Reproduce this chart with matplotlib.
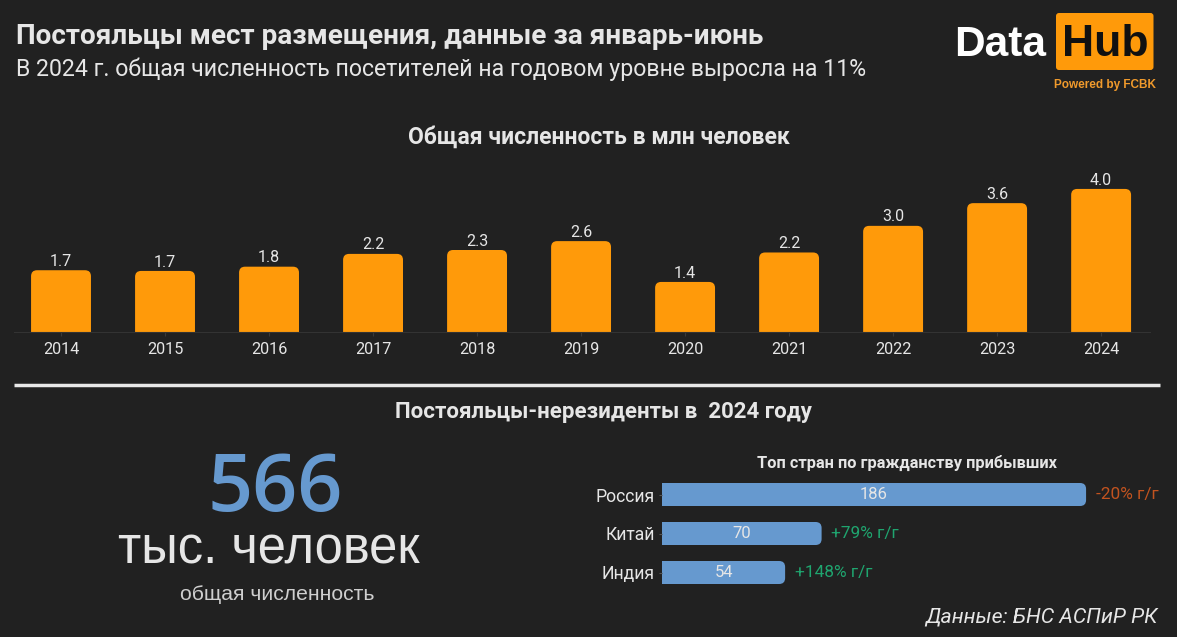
from matplotlib import pyplot as plt
from matplotlib.patches import FancyBboxPatch, PathPatch
from matplotlib.path import Path

W, H = 1177, 637
BG = '#212121'
ORANGE = '#ff9a0a'
BLUE = '#6699cf'
LIGHT = '#e6e6e6'

years = ['2014', '2015', '2016', '2017', '2018', '2019', '2020', '2021', '2022', '2023', '2024']
guests = [1.74, 1.72, 1.84, 2.20, 2.31, 2.56, 1.41, 2.24, 2.99, 3.63, 4.03]

countries = ['Россия', 'Китай', 'Индия']
arrivals = [186, 70, 54]
changes = ['-20% г/г', '+79% г/г', '+148% г/г']
change_colors = ['#c2531f', '#1fa56f', '#1fa56f']

plt.rcParams['font.family'] = ['Roboto', 'DejaVu Sans']


def px_axes(fig, left, top, right, bottom):
  return fig.add_axes([left / W, 1 - bottom / H, (right - left) / W, (bottom - top) / H])


def label(fig, x, y, s, **kw):
  kw.setdefault('va', 'center')
  return fig.text(x / W, 1 - y / H, s, **kw)


def round_bar(ax, x0, x1, y0, y1, r, color, horizontal=False):
  # rounded on the free end only, r is in pixels
  sx = ax.bbox.width / abs(ax.get_xlim()[1] - ax.get_xlim()[0])
  sy = ax.bbox.height / abs(ax.get_ylim()[1] - ax.get_ylim()[0])
  rx, ry = r / sx, r / sy
  if horizontal:
    verts = [(x0, y0), (x1 - rx, y0), (x1, y0), (x1, y0 + ry), (x1, y1 - ry),
             (x1, y1), (x1 - rx, y1), (x0, y1), (x0, y0)]
  else:
    verts = [(x0, y0), (x0, y1 - ry), (x0, y1), (x0 + rx, y1), (x1 - rx, y1),
             (x1, y1), (x1, y1 - ry), (x1, y0), (x0, y0)]
  codes = [Path.MOVETO, Path.LINETO, Path.CURVE3, Path.CURVE3, Path.LINETO,
           Path.CURVE3, Path.CURVE3, Path.LINETO, Path.CLOSEPOLY]
  ax.add_patch(PathPatch(Path(verts, codes), facecolor=color, edgecolor='none'))


fig = plt.figure(figsize=(W / 100, H / 100), dpi=100, facecolor=BG)

# header
label(fig, 16, 36, 'Постояльцы мест размещения, данные за январь-июнь',
      fontsize=20.1, fontweight='bold', color=LIGHT)
label(fig, 16, 69, 'В 2024 г. общая численность посетителей на годовом уровне выросла на 11%',
      fontsize=16.7, color=LIGHT)

# logo
logo = fig.add_axes([0, 0, 1, 1], facecolor='none')
logo.set_xlim(0, W)
logo.set_ylim(H, 0)
logo.axis('off')
logo.add_patch(FancyBboxPatch((1056, 13), 97.5, 57, boxstyle='round,pad=0,rounding_size=3',
                              facecolor=ORANGE, edgecolor='none'))
label(fig, 954, 45, 'Data', fontsize=30.5, fontweight='bold', color='white', family='Liberation Sans')
label(fig, 1105, 45, 'Hub', fontsize=32, fontweight='bold', color='#111111', ha='center',
      family='Liberation Sans')
label(fig, 1105, 85, 'Powered by FCBK', fontsize=8.5, fontweight='bold', color='#f09a2c', ha='center',
      family='Liberation Sans')

# yearly bars
label(fig, 599, 137, 'Общая численность в млн человек', fontsize=16.5, fontweight='bold',
      color=LIGHT, ha='center')
ax = px_axes(fig, 14, 160, 1150, 332)
ax.set_facecolor('none')
ax.set_xlim(-0.452, 10.47)
ax.set_ylim(0, 172 / 35.5)
for i, v in enumerate(guests):
  round_bar(ax, i - 0.288, i + 0.288, 0, v, 6, ORANGE)
  ax.text(i, v + 0.04, f'{v:.1f}', ha='center', va='bottom', fontsize=11.5, color=LIGHT)
ax.set_xticks(range(len(years)))
ax.set_xticklabels(years, fontsize=11.7, color=LIGHT)
ax.set_yticks([])
for s in ['top', 'left', 'right']:
  ax.spines[s].set_visible(False)
ax.spines['bottom'].set_color('#333333')
ax.tick_params(axis='x', length=3, color='#3a3a3a', pad=4)

# divider
logo.plot([14, 1160], [385, 385], color='#e8e8e8', lw=2.5, solid_capstyle='butt')

label(fig, 603, 412, 'Постояльцы-нерезиденты в  2024 году', fontsize=16, fontweight='bold',
      color=LIGHT, ha='center')

# big number
label(fig, 275, 490, '566', fontsize=57, fontweight='semibold', color=BLUE, ha='center', family='Open Sans')
label(fig, 269, 550, 'тыс. человек', fontsize=36.5, color=LIGHT, ha='center', family='Liberation Sans')
label(fig, 277, 595, 'общая численность', fontsize=15.2, color='#cfcfcf', ha='center',
      family='Liberation Sans')

# countries
label(fig, 907, 463, 'Топ стран по гражданству прибывших', fontsize=11.8, fontweight='bold',
      color=LIGHT, ha='center')
ax2 = px_axes(fig, 662, 475, 1160, 592)
ax2.set_facecolor('none')
ax2.set_xlim(0, 498 / 2.28)
ax2.set_ylim(2.5, -0.5)
for i, v in enumerate(arrivals):
  round_bar(ax2, 0, v, i - 0.295, i + 0.295, 6, BLUE, horizontal=True)
  ax2.text(v / 2, i, str(v), ha='center', va='center', fontsize=12, color=LIGHT)
  ax2.annotate(changes[i], (v, i), xytext=(7, 0), textcoords='offset points', va='center',
               fontsize=12.4, color=change_colors[i])
ax2.set_yticks(range(len(countries)))
ax2.set_yticklabels(countries, fontsize=12.7, color=LIGHT)
ax2.set_xticks([])
for s in ax2.spines.values():
  s.set_visible(False)
ax2.tick_params(axis='y', length=2, color='#555555', pad=3)

label(fig, 1158, 617, 'Данные: БНС АСПиР РК', fontsize=15.3, fontstyle='italic', color=LIGHT, ha='right')

fig.savefig('out.png', dpi=100, facecolor=BG)
